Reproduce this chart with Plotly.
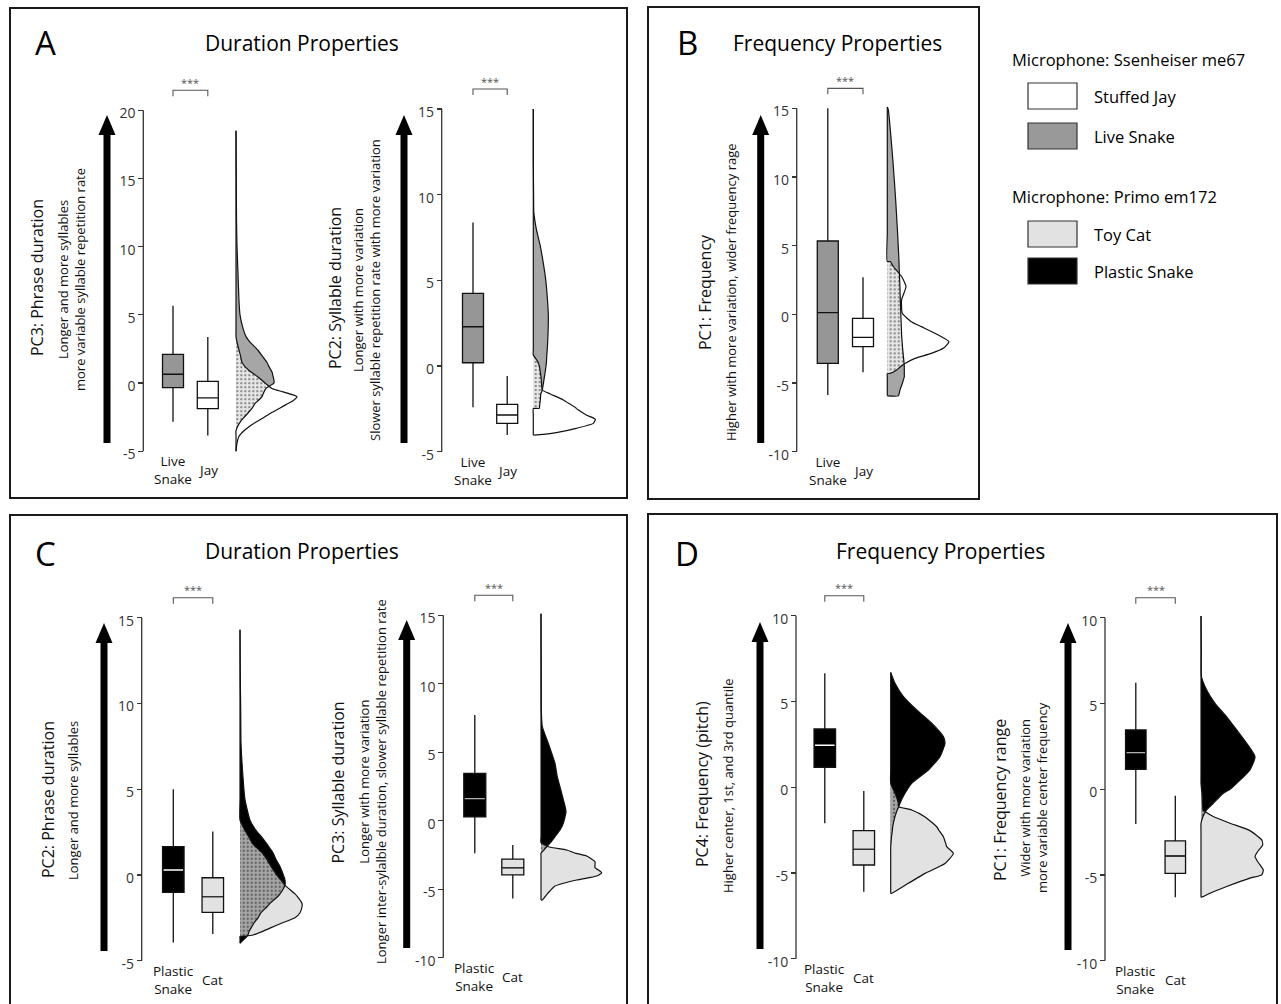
import plotly.graph_objects as go
import numpy as np

W, H = 1281, 1004

# ====================== DATA ======================
# Box statistics per group: [q1, median, q3, lower whisker, upper whisker]
a1_live_snake_box = [-0.34, 0.64, 2.10, -2.84, 5.67]
a1_jay_box        = [-1.88, -1.09, 0.12, -3.84, 3.37]
a2_live_snake_box = [0.19, 2.29, 4.24, -2.41, 8.37]
a2_jay_box        = [-3.35, -2.86, -2.24, -4.03, -0.58]
b_live_snake_box  = [-3.57, 0.12, 5.34, -5.88, 15.0]
b_jay_box         = [-2.36, -1.68, -0.29, -4.22, 2.69]
c1_plastic_box    = [-1.01, 0.29, 1.65, -3.93, 5.0]
c1_cat_box        = [-2.18, -1.26, -0.16, -3.44, 2.53]
c2_plastic_box    = [0.29, 1.61, 3.46, -2.38, 7.71]
c2_cat_box        = [-3.96, -3.43, -2.80, -5.67, -1.77]
d1_plastic_box    = [1.17, 2.45, 3.40, -2.10, 6.65]
d1_cat_box        = [-4.53, -3.62, -2.53, -6.09, -0.21]
d2_plastic_box    = [1.17, 2.14, 3.46, -2.02, 6.22]
d2_cat_box        = [-4.90, -3.89, -3.01, -6.30, -0.37]

# Half-violin densities (relative width) on a common PC-score grid per panel
a1_y = [18.5, 15, 12, 10, 8, 6, 5, 4, 3.4, 3, 2.4, 2, 1.5, 1.2, 0.8, 0.5, 0.2, 0, -0.4, -0.65,
        -1.0, -1.3, -1.5, -1.8, -2.2, -2.6, -3.0, -3.2, -3.5, -3.9, -4.4, -5.0]
a1_live_snake_dens = [0, 0.3, 0.5, 1, 2, 3, 4, 7, 10, 14, 22, 26, 31, 33, 36, 37, 38, 38, 30, 28,
                      26, 22, 19, 16.5, 12, 7, 3, 1.5, 0, 0, 0, 0]
a1_jay_dens = [0, 0, 0, 0, 0, 0, 0, 0, 0, 1, 3, 4.5, 6, 9, 15, 21, 26, 29, 36, 47,
               61, 57, 52, 45, 35, 26, 17, 13, 8, 3, 1, 0]

a2_y = [15, 12, 10, 9, 8, 7, 6, 5, 4, 3, 2, 1, 0.64, 0.3, 0, -0.8, -1.4, -1.63, -1.98, -2.2,
        -2.47, -2.48, -2.86, -3.11, -3.35, -3.64, -3.89, -3.99, -4.03]
a2_live_snake_dens = [0, 0, 0.3, 0.5, 3, 7, 10, 12.5, 14, 15, 14.8, 14, 13.5, 13.2, 12.7, 10.7, 9, 7.5, 7, 6.5,
                      6, 0, 0, 0, 0, 0, 0, 0, 0]
a2_jay_dens = [0, 0, 0, 0, 0, 0, 0, 0, 0, 0, 0, 0, 0, 4, 6, 8, 9, 17, 30, 36,
               43, 43, 53, 62, 60, 43, 23, 10, 0]

b_y = [15.1, 14.9, 13.2, 10.8, 8.4, 5.9, 3.85, 3.84, 3.48, 2.75, 2.02, 1.05, 0.07, -0.54, -0.9, -1.51,
       -2.0, -2.48, -2.85, -3.21, -3.58, -3.82, -4.06, -4.31, -4.32, -4.55, -5.04, -5.5, -5.94]
b_live_snake_dens = [0, 1, 3.3, 6, 8.3, 10.3, 11.7, 11.7, 11.8, 12.2, 12.6, 13, 13.5, 13.8, 14, 14.3,
                     14.8, 15.3, 15.8, 16.3, 16.8, 17, 17, 17, 17, 17, 15, 12.7, 11]
b_jay_dens = [0, 0, 0, 0, 0, 0, 0, 3, 6, 14.3, 18.7, 14.3, 15, 24, 34, 51,
              61.7, 56, 44, 27.7, 17.7, 13, 9.3, 2.7, 0, 0, 0, 0, 0]

c1_y = [14.3, 11.5, 9.6, 7.7, 5.7, 4.4, 3.2, 2.6, 2.2, 1.8, 1.3, 0.9, 0.5, -0.1, -0.3, -0.6, -1.1,
        -1.3, -1.65, -1.85, -2.2, -2.5, -2.8, -3.1, -3.3, -3.5, -3.56, -3.58, -3.7, -3.98]
c1_plastic_dens = [0, 0.3, 0.7, 1, 3, 5, 10, 16, 22, 27, 33, 36, 40, 44, 45, 45, 40,
                   37, 30, 27, 21, 18, 14, 11, 9, 8, 7, 7, 5, 0]
c1_cat_dens = [0, 0, 0, 0, 0, 0, 0, 5, 9, 13, 22, 27, 31, 38, 41, 45, 55,
               58, 62, 62, 60, 55, 42, 30, 22, 13, 5, 0, 0, 0]

c2_y = [15.1, 10.5, 8.1, 6.86, 5.64, 4.18, 3.21, 2.0, 1.27, 0.66, -0.19, -0.68, -1.17, -1.6, -1.9,
        -2.14, -2.38, -2.58, -2.99, -3.41, -3.8, -4.04, -4.33, -4.77, -5.26, -5.79]
c2_plastic_dens = [0, 0.2, 0.3, 1.3, 7.3, 14, 16.3, 20.7, 23.3, 25, 22.3, 19, 14, 9.5, 5.7,
                   3, 0, 0, 0, 0, 0, 0, 0, 0, 0, 0]
c2_cat_dens = [0, 0, 0, 0, 0, 0, 0, 0, 0, 0, 0, 0, 0, 0, 7.3,
               25.7, 35, 45.7, 54, 54, 60.7, 55.7, 35.7, 14, 7.3, 1.3]

d1_y = [6.7, 6.07, 5.29, 4.51, 3.74, 2.96, 2.57, 1.79, 1.01, 0.23, -0.35, -0.93, -1.13, -1.32, -1.71,
        -2.3, -2.49, -2.88, -3.27, -3.46, -3.85, -4.44, -5.02, -5.6, -6.19]
d1_plastic_dens = [0, 4.3, 12.7, 26, 41, 52.7, 54.3, 49.3, 37.7, 21, 14.3, 9.3, 8, 6.5, 4.3,
                   2, 1.7, 0.8, 0.3, 0, 0, 0, 0, 0, 0]
d1_cat_dens = [0, 0, 0, 0, 0, 0, 0, 0, 0, 0, 4.3, 7.7, 8, 21, 34,
               46, 48, 52.7, 55, 56, 62.7, 54.3, 34.3, 17.7, 1]

d2_y = [10.1, 8, 6.56, 5.79, 5.01, 4.23, 3.46, 2.68, 1.9, 1.13, 0.35, 0, -0.23, -0.82, -1.2, -1.3,
        -1.59, -1.98, -2.41, -2.95, -3.24, -3.63, -3.92, -4.27, -4.7, -4.99, -5.18, -5.67, -6.06, -6.29]
d2_plastic_dens = [0, 0.3, 0.5, 5.7, 14, 25.7, 35.7, 45.7, 54, 49, 35.7, 29, 22.3, 12.3, 5.7, 4.5,
                   2, 0, 0, 0, 0, 0, 0, 0, 0, 0, 0, 0, 0, 0]
d2_cat_dens = [0, 0, 0, 0, 0, 0, 0, 0, 0, 0, 0, 0.5, 1, 1.5, 2, 4,
               12.3, 29, 49, 60.7, 61.7, 56.7, 54, 57.3, 62.3, 60.7, 49, 25.7, 9, 0.7]

# Tick values
a1_ticks = [-5, 0, 5, 10, 15, 20]
a2_ticks = [-5, 0, 5, 10, 15]
b_ticks = [-10, -5, 0, 5, 10, 15]
c1_ticks = [-5, 0, 5, 10, 15]
c2_ticks = [-10, -5, 0, 5, 10, 15]
d1_ticks = [-10, -5, 0, 5, 10]
d2_ticks = [-10, -5, 0, 5, 10]

# Category / legend labels
live_snake_label = "Live<br>Snake"
jay_label = "Jay"
plastic_label = "Plastic<br>Snake"
cat_label = "Cat"

legend_groups = [
    ("Microphone: Ssenheiser me67", [("Stuffed Jay", "#ffffff"), ("Live Snake", "#999999")]),
    ("Microphone: Primo em172", [("Toy Cat", "#e2e2e2"), ("Plastic Snake", "#000000")]),
]

# ====================== STYLE / LAYOUT ======================
FONT = "Open Sans"
GRAY_BOX, GRAY_DENS = "#969696", "#a6a6a6"
WHITE = "#ffffff"
LIGHT = "#e2e2e2"
BLACK = "#000000"

def PX(x):
    return x / W

def PY(y):
    return 1 - y / H

panels = [
    dict(ax=143.3, p0=383.0, s=13.64, ticks=a1_ticks, pos=(29.7, 64.5), base=92.7, bw=21,
         boxes=(a1_live_snake_box, a1_jay_box), y=a1_y, dens=(a1_live_snake_dens, a1_jay_dens),
         box_fill=(GRAY_BOX, WHITE), dens_fill=(GRAY_DENS, WHITE), med=("black", "black"), ov="#e6e6e6",
         labels=(live_snake_label, jay_label),
         title="PC3: Phrase duration", tx=37, ty=278,
         sub="Longer and more syllables<br>more variable syllable repetition rate", sx=71, sy=280,
         arrow=(107, 115, 443)),
    dict(ax=441.7, p0=366.0, s=17.13, ticks=a2_ticks, pos=(31.3, 65.5), base=91.6, bw=21,
         boxes=(a2_live_snake_box, a2_jay_box), y=a2_y, dens=(a2_live_snake_dens, a2_jay_dens),
         box_fill=(GRAY_BOX, WHITE), dens_fill=(GRAY_DENS, WHITE), med=("black", "black"), ov="#e6e6e6",
         labels=(live_snake_label, jay_label),
         title="PC2: Syllable duration", tx=335, ty=288,
         sub="Longer with more variation<br>Slower syllable repetition rate with more variation", sx=367, sy=290,
         arrow=(404, 115, 443)),
    dict(ax=796.7, p0=314.3, s=13.73, ticks=b_ticks, pos=(31.1, 66.3), base=90.6, bw=21,
         boxes=(b_live_snake_box, b_jay_box), y=b_y, dens=(b_live_snake_dens, b_jay_dens),
         box_fill=(GRAY_BOX, WHITE), dens_fill=(GRAY_DENS, WHITE), med=("black", "black"), ov="#e6e6e6",
         labels=(live_snake_label, jay_label),
         title="PC1: Frequency", tx=705, ty=292,
         sub="Higher with more variation, wider frequency rage", sx=731, sy=292,
         arrow=(760.7, 115, 443)),
    dict(ax=141.7, p0=875.0, s=17.15, ticks=c1_ticks, pos=(31.6, 71.1), base=98.3, bw=21.5,
         boxes=(c1_plastic_box, c1_cat_box), y=c1_y, dens=(c1_plastic_dens, c1_cat_dens),
         box_fill=(BLACK, LIGHT), dens_fill=(BLACK, LIGHT), med=("white", "#333333"), ov="#a4a4a4",
         labels=(plastic_label, cat_label),
         title="PC2: Phrase duration", tx=48, ty=800,
         sub="Longer and more syllables", sx=73, sy=801,
         arrow=(104, 623, 951)),
    dict(ax=443.3, p0=820.7, s=13.70, ticks=c2_ticks, pos=(31.5, 69.5), base=97.7, bw=22,
         boxes=(c2_plastic_box, c2_cat_box), y=c2_y, dens=(c2_plastic_dens, c2_cat_dens),
         box_fill=(BLACK, LIGHT), dens_fill=(BLACK, LIGHT), med=("#b0b0b0", "#333333"), ov="#a4a4a4",
         labels=(plastic_label, cat_label),
         title="PC3: Syllable duration", tx=337.5, ty=783,
         sub="Longer with more variation<br>Longer inter-sylalble duration, slower syllable repetition rate",
         sx=372, sy=782,
         arrow=(406.7, 620, 948)),
    dict(ax=796.0, p0=787.3, s=17.15, ticks=d1_ticks, pos=(28.8, 67.8), base=94.7, bw=21.5,
         boxes=(d1_plastic_box, d1_cat_box), y=d1_y, dens=(d1_plastic_dens, d1_cat_dens),
         box_fill=(BLACK, LIGHT), dens_fill=(BLACK, LIGHT), med=("white", "#333333"), ov="#a4a4a4",
         labels=(plastic_label, cat_label),
         title="PC4: Frequency (pitch)", tx=702, ty=784,
         sub="Higher center, 1st, and 3rd quantile", sx=728, sy=786,
         arrow=(760, 622, 949)),
    dict(ax=1105.0, p0=789.3, s=17.15, ticks=d2_ticks, pos=(30.8, 70.3), base=96.0, bw=20.5,
         boxes=(d2_plastic_box, d2_cat_box), y=d2_y, dens=(d2_plastic_dens, d2_cat_dens),
         box_fill=(BLACK, LIGHT), dens_fill=(BLACK, LIGHT), med=("#b0b0b0", "#333333"), ov="#a4a4a4",
         labels=(plastic_label, cat_label),
         title="PC1: Frequency range", tx=1000, ty=800,
         sub="Wider with more variation<br>more variable center frequency", sx=1033, sy=798,
         arrow=(1068, 623, 950)),
]

fig = go.Figure()
shapes, annotations = [], []
layout_axes = {}

XL, XR = -8, 175
for i, p in enumerate(panels, start=1):
    xref = "x" if i == 1 else f"x{i}"
    yref = "y" if i == 1 else f"y{i}"
    xkey = "xaxis" if i == 1 else f"xaxis{i}"
    ykey = "yaxis" if i == 1 else f"yaxis{i}"
    tmin, tmax = min(p["ticks"]), max(p["ticks"])
    top_px = max(1.0, p["p0"] - tmax * p["s"] - 45)
    bot_px = min(H - 1.0, p["p0"] - tmin * p["s"] + 40)
    layout_axes[xkey] = dict(domain=[PX(p["ax"] + XL), PX(p["ax"] + XR)], range=[XL, XR],
                             visible=False, anchor=yref, fixedrange=True)
    layout_axes[ykey] = dict(domain=[PY(bot_px), PY(top_px)],
                             range=[(p["p0"] - bot_px) / p["s"], (p["p0"] - top_px) / p["s"]],
                             anchor="free", position=PX(p["ax"]), side="left",
                             tickvals=p["ticks"], ticktext=[str(t) for t in p["ticks"]],
                             ticks="outside", ticklen=5, tickwidth=1.2, tickcolor="#333333",
                             tickfont=dict(family=FONT, size=14, color="#333333"),
                             ticklabelshift=3,
                             showline=False, showgrid=False, zeroline=False, fixedrange=True)

    y = np.array(p["y"], dtype=float)
    d1 = np.array(p["dens"][0], dtype=float)
    d2 = np.array(p["dens"][1], dtype=float)
    dov = np.minimum(d1, d2)
    base = p["base"]

    def poly(d):
        xs = np.concatenate([[base], base + d, [base]])
        ys = np.concatenate([[y[0]], y, [y[-1]]])
        return xs, ys

    common = dict(xaxis=xref, yaxis=yref, showlegend=False, hoverinfo="skip", mode="lines")
    for d, col in ((d1, p["dens_fill"][0]), (d2, p["dens_fill"][1])):
        xs, ys = poly(d)
        fig.add_trace(go.Scatter(x=xs, y=ys, fill="toself", fillcolor=col,
                                 line=dict(width=0, shape="spline", smoothing=0.5), **common))
    xs, ys = poly(dov)
    fig.add_trace(go.Scatter(x=xs, y=ys, fill="toself", fillcolor=p["ov"],
                             fillpattern=dict(shape=".", bgcolor=p["ov"], fgcolor="#000000",
                                              size=4, solidity=0.22),
                             line=dict(width=0, shape="spline", smoothing=0.5), **common))
    for d in (d1, d2):
        xs, ys = poly(d)
        fig.add_trace(go.Scatter(x=xs, y=ys, line=dict(color="#111111", width=1.2, shape="spline",
                                                       smoothing=0.5), **common))

    # boxes
    for k in range(2):
        q1, med, q3, lo, hi = p["boxes"][k]
        fig.add_trace(go.Box(x=[p["pos"][k]], q1=[q1], median=[med], q3=[q3],
                             lowerfence=[lo], upperfence=[hi], width=p["bw"],
                             fillcolor=p["box_fill"][k], line=dict(color="#111111", width=1.3),
                             whiskerwidth=0, boxpoints=False, xaxis=xref, yaxis=yref,
                             showlegend=False, hoverinfo="skip"))
        if p["med"][k] != "black":
            hw = p["bw"] / 2 - 1
            fig.add_trace(go.Scatter(x=[p["pos"][k] - hw, p["pos"][k] + hw], y=[med, med],
                                     line=dict(color=p["med"][k], width=1.4), **common))

    # axis line
    shapes.append(dict(type="line", xref=xref, yref=yref, x0=0, x1=0, y0=tmin, y1=tmax,
                       line=dict(color="#333333", width=1.3), layer="above"))
    # significance bracket
    ybr = tmax + 20 / p["s"]
    tick = 6 / p["s"]
    xa, xb = p["pos"]
    shapes.append(dict(type="path", xref=xref, yref=yref,
                       path=f"M {xa},{ybr - tick} L {xa},{ybr} L {xb},{ybr} L {xb},{ybr - tick}",
                       line=dict(color="#555555", width=1.1)))
    annotations.append(dict(xref=xref, yref=yref, x=(xa + xb) / 2, y=ybr + 8 / p["s"], text="***",
                            showarrow=False, font=dict(family=FONT, size=11, color="#555555"),
                            xanchor="center", yanchor="middle"))
    # category labels
    for k in range(2):
        annotations.append(dict(xref=xref, yref=yref, x=p["pos"][k], y=tmin - 19 / p["s"],
                                text=p["labels"][k], showarrow=False,
                                font=dict(family=FONT, size=13.5, color="#111111"),
                                xanchor="center", yanchor="middle"))
    # axis titles
    annotations.append(dict(xref="paper", yref="paper", x=PX(p["tx"]), y=PY(p["ty"]), text=p["title"],
                            textangle=-90, showarrow=False, font=dict(family=FONT, size=16, color="#111111"),
                            xanchor="center", yanchor="middle"))
    annotations.append(dict(xref="paper", yref="paper", x=PX(p["sx"]), y=PY(p["sy"]), text=p["sub"],
                            textangle=-90, showarrow=False, font=dict(family=FONT, size=13, color="#111111"),
                            xanchor="center", yanchor="middle"))
    # big arrow
    axp, tip, bottom = p["arrow"]
    shapes.append(dict(type="line", xref="paper", yref="paper", x0=PX(axp), x1=PX(axp),
                       y0=PY(bottom), y1=PY(tip + 18), line=dict(color="#000000", width=7)))
    shapes.append(dict(type="path", xref="paper", yref="paper",
                       path=f"M {PX(axp - 8.5)},{PY(tip + 20)} L {PX(axp + 8.5)},{PY(tip + 20)} "
                            f"L {PX(axp)},{PY(tip)} Z",
                       fillcolor="#000000", line=dict(width=0)))

# panel borders
for (x0, y0, x1, y1) in [(10, 8, 627, 498), (648, 7, 979, 499), (10, 515, 627, 1012), (648, 514, 1277, 1012)]:
    shapes.append(dict(type="rect", xref="paper", yref="paper", x0=PX(x0), x1=PX(x1), y0=PY(y1), y1=PY(y0),
                       line=dict(color="#1a1a1a", width=2), fillcolor="rgba(0,0,0,0)", layer="below"))

# panel letters and titles
for letter, lx, ly in [("A", 45, 43), ("B", 687, 43), ("C", 45, 553), ("D", 687, 553)]:
    annotations.append(dict(xref="paper", yref="paper", x=PX(lx), y=PY(ly), text=letter, showarrow=False,
                            font=dict(family=FONT, size=33, color="#000000"), xanchor="center", yanchor="middle"))
for title, cx, cy in [("Duration Properties", 302, 43), ("Frequency Properties", 838, 43),
                      ("Duration Properties", 302, 551), ("Frequency Properties", 940, 551)]:
    annotations.append(dict(xref="paper", yref="paper", x=PX(cx), y=PY(cy), text=title, showarrow=False,
                            font=dict(family=FONT, size=21, color="#000000"), xanchor="center", yanchor="middle"))

# legend
head_y = [60, 196]
item_y = [[96, 136], [234, 271]]
for g, (head, items) in enumerate(legend_groups):
    annotations.append(dict(xref="paper", yref="paper", x=PX(1010), y=PY(head_y[g]), text=head,
                            showarrow=False, font=dict(family=FONT, size=16.5, color="#000000"),
                            xanchor="left", yanchor="middle"))
    for j, (name, col) in enumerate(items):
        yc = item_y[g][j]
        shapes.append(dict(type="rect", xref="paper", yref="paper", x0=PX(1028), x1=PX(1077),
                           y0=PY(yc + 13), y1=PY(yc - 13), fillcolor=col,
                           line=dict(color="#333333", width=1.2)))
        annotations.append(dict(xref="paper", yref="paper", x=PX(1092), y=PY(yc), text=name,
                                showarrow=False, font=dict(family=FONT, size=16.5, color="#000000"),
                                xanchor="left", yanchor="middle"))

fig.update_layout(width=W, height=H, margin=dict(l=0, r=0, t=0, b=0), autosize=False,
                  paper_bgcolor="white", plot_bgcolor="white", showlegend=False,
                  shapes=shapes, annotations=annotations, font=dict(family=FONT), **layout_axes)

fig.write_html("out.html", config={"displayModeBar": False, "staticPlot": True},
               post_script="document.body.style.margin='0px';document.body.style.overflow='hidden';")
